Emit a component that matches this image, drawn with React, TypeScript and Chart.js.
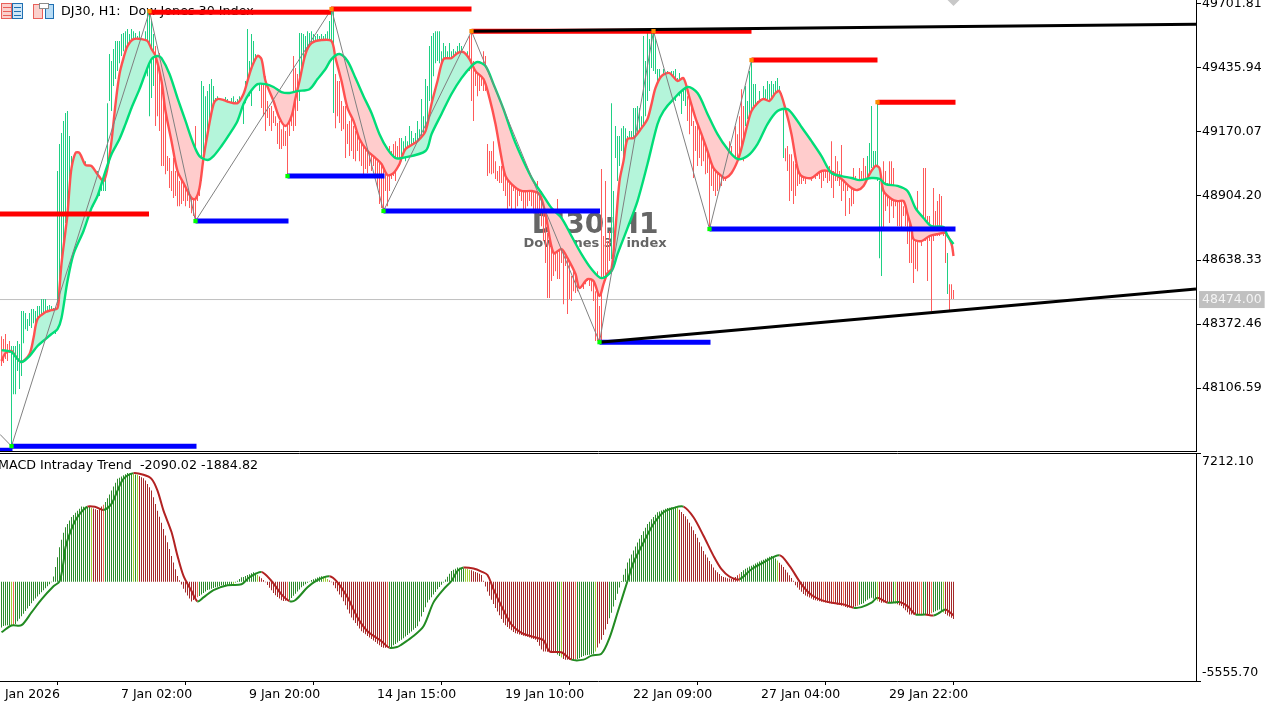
import React, { useEffect, useRef } from "react";
import { Chart, registerables } from "chart.js";

Chart.register(...registerables);

// ---------- price pane data ----------
const priceTicks = [49701.81, 49435.94, 49170.07, 48904.2, 48638.33, 48372.46, 48106.59];
const lastPrice = 48474.0;

const barHigh = [48322,48310,48331,48289,48302,48281,48281,48281,48302,48289,48426,48426,48418,48393,48418,48435,48435,48426,48447,48447,48476,48476,48476,48447,48451,48447,48439,48439,
49008,49120,49166,49216,49249,49257,49153,49070,49062,49070,49058,49070,49029,49049,49049,49029,49008,48999,49008,48987,49008,48975,48975,48987,49008,49290,49494,49465,49515,49548,49548,49548,49577,49581,49589,49598,49577,49598,49589,49581,49569,49589,49556,49556,49589,49672,49672,49631,49577,49527,49486,49498,49423,49299,49402,49070,49062,49008,49062,49008,49062,48966,48966,48958,48958,48954,48925,48925,48916,49195,49070,49070,
49382,49361,49319,49340,49369,49390,49361,49311,49319,49311,49307,49299,49315,49307,49299,49311,49319,49299,49307,49319,49311,49311,49382,49598,49465,49577,49548,49494,49486,49452,49411,49382,49402,49299,49270,49278,49257,49236,49207,49216,49182,49195,49174,49203,49299,49236,49486,49436,49411,
49581,49581,49577,49569,49589,49581,49589,49577,49569,49577,49569,49577,49569,49577,49589,49631,49681,49672,
49411,49382,49382,49299,49278,49278,49203,49216,49224,49195,49174,49153,49132,49161,49174,49112,49112,49091,49112,49091,49070,49049,49091,49049,49062,49008,49008,49112,49091,49120,49132,49112,49145,
49145,49132,49153,49132,49195,49174,49145,49166,49216,49182,49307,49236,49390,49361,49527,49569,49581,49589,49589,49589,49506,49540,49527,49506,49540,49506,49515,49506,49527,49540,49527,49506,49498,49506,49569,49589,49465,49444,49436,49444,49423,49506,49486,
49120,49091,49091,49132,49049,49008,49029,49029,49029,49037,48987,48987,48966,49008,49016,48987,49008,48999,48966,48966,48966,48966,48946,48933,48946,48966,48925,48925,48862,48842,48750,48729,48738,48717,48696,48892,48779,48717,48759,48676,48646,48626,48572,48592,48572,48592,48592,48601,48592,48584,48601,48584,48580,48572,48509,48592,48447,49016,48738,48966,48717,48759,
49290,48925,49195,49153,49153,49186,49195,49186,49153,49174,49174,49270,49270,49278,49270,49236,49569,49465,49589,49556,49589,49589,49560,49432,49432,49402,49432,49415,49423,49415,49423,49423,49432,49394,49415,49394,49382,49382,
49319,49299,49278,49216,49195,49216,49174,49174,49132,49112,49091,49091,49049,49029,49029,49020,49008,48999,48999,49008,49029,49132,49112,49070,
49195,49161,49236,49348,49278,49361,49299,49423,49465,49369,49369,49299,49340,49299,49361,49348,49382,49369,49382,49369,49382,49394,49361,49332,49270,49103,49112,49078,49078,49049,49037,49008,49029,49037,49029,49037,49029,49029,49029,49029,49062,49037,49029,49037,49008,49037,49016,49029,49132,49008,49070,49049,49008,49116,48987,48979,48966,48896,48966,49020,48987,48966,49020,49008,49062,49029,49070,49124,49278,49091,49091,49290,48966,48946,49049,49008,48958,49049,49049,49020,48925,48925,48904,48883,48862,48862,48925,48833,48862,48800,48779,48925,48792,48779,49020,49020,48821,48821,48759,48937,48842,48883,48912,48904,48779,48759,48667,48538,48538,48514];

const barLow = [48198,48210,48227,48219,48252,47865,48081,48081,48177,48102,48156,48293,48351,48343,48364,48356,48376,48376,48385,48393,48406,48393,48418,48385,48393,48376,48376,48331,
48459,48509,48592,48696,48792,48862,48925,48987,48999,48925,48904,48966,48904,48883,48925,48883,48862,48904,48862,48904,48925,48904,48925,48925,48925,49037,49299,49257,49361,49390,49423,49456,49486,49506,49506,49531,49515,49535,49527,49515,49527,49515,49506,49486,49465,49402,49236,49311,49361,49195,49236,49174,49029,49029,48995,49008,48937,48925,48896,48904,48862,48862,48871,48883,48862,48883,48854,48833,48821,48800,48883,48904,
48966,49062,49070,49112,49174,49216,49257,49265,49257,49278,49249,49257,49265,49245,49257,49265,49249,49245,49265,49278,49270,49203,49290,49361,49319,49278,49382,49382,49382,49340,49270,49236,49174,49228,49195,49174,49207,49195,49120,49099,49099,49112,49112,48987,49153,49195,49174,49195,49257,
49299,49382,49456,49473,49486,49506,49519,49515,49527,49519,49540,49519,49527,49515,49506,49498,49465,49249,
49186,49236,49207,49174,49182,49062,49120,49070,49091,49058,49049,49091,49049,49029,48995,49016,48999,49029,49008,49029,48987,48937,48871,48854,48842,48925,48862,48925,48975,48987,48966,49029,49029,
49049,49070,49049,49083,49099,49091,49083,49091,49112,49112,49112,49091,49091,49153,49299,49299,49402,49456,49465,49456,49452,49456,49456,49465,49465,49465,49473,49465,49473,49486,49477,49465,49456,49432,49423,49299,49216,49361,49319,49340,49361,49340,49340,
48987,48999,48995,48999,48975,48966,48958,48958,48925,48904,48850,48862,48850,48925,48850,48862,48904,48883,48850,48842,48862,48883,48862,48833,48842,48833,48829,48779,48717,48626,48480,48480,48551,48572,48592,48559,48559,48626,48455,48613,48414,48476,48468,48509,48501,48509,48518,48530,48518,48538,48551,48530,48509,48468,48302,48302,48302,48302,48530,48551,48592,48634,
48642,48655,49062,48966,49029,49091,49049,49103,49070,49103,49112,49112,49153,49161,49174,49153,49195,49236,49299,49340,49436,49423,49411,49361,49340,49319,49340,49299,49361,49319,49348,49382,49299,49340,49319,49245,49299,49278,
49216,49161,49195,48979,49091,49029,49062,49029,49049,48995,49000,48767,48946,48925,48904,48925,48933,48946,48966,48966,48987,49000,49029,49029,
49049,49058,49070,49091,49049,49195,49224,49236,49236,49278,49195,49236,49278,49278,49299,49290,49299,49299,49307,49278,49299,49299,49290,49286,49062,49049,49008,48883,48925,48871,48904,48946,48954,48954,48966,48954,48975,48987,48966,48987,48975,48987,48975,48937,48966,48979,48958,48966,48937,48896,48966,48966,48946,48883,48925,48821,48925,48829,48862,48871,48925,48925,48975,48966,48966,48966,48987,48987,49020,49008,49008,48966,48646,48572,48771,48842,48862,48792,48862,48813,48862,48779,48779,48767,48821,48779,48705,48626,48626,48543,48601,48592,48717,48696,48717,48717,48551,48717,48426,48717,48738,48738,48738,48767,48738,48626,48497,48430,48476,48476];

// runs of [number of bars, colour key] for the candle trend
const candleRuns: [number, string][] = [[5,"r"],[72,"g"],[23,"r"],[30,"g"],[19,"r"],[18,"g"],[33,"r"],[34,"g"],[71,"r"],[38,"g"],[29,"r"],[20,"g"],[41,"r"],[8,"g"],[32,"r"],[1,"g"],[3,"r"]];

const fastBar = [0,2,5,8,10,14,16,18,22,25,28,29,30,32,33,34,35,37,39,42,45,48,51,53,55,57,59,61,63,66,70,73,75,77,80,82,85,88,91,95,97,99,101,103,106,108,111,114,118,121,123,125,128,130,132,136,139,142,145,147,149,152,155,160,165,167,170,173,176,179,183,187,190,193,196,199,200,202,205,208,212,215,218,221,225,228,231,234,237,241,244,247,250,252,255,260,265,269,272,276,280,283,287,289,293,296,299,301,303,305,307,309,311,313,316,320,323,325,327,330,334,338,341,344,347,350,353,356,360,362,365,368,370,373,375,378,381,384,387,389,392,395,398,400,405,410,415,420,425,428,431,434,437,439,441,445,448,451,453,455,456,460,464,468,472,475,476];
const fastPrice = [48219,48252,48260,48227,48214,48248,48314,48393,48422,48430,48439,48522,48622,48759,48829,48937,49020,49083,49083,49033,49029,48995,48966,49020,49132,49286,49411,49477,49527,49556,49556,49548,49515,49486,49382,49257,49132,49008,48958,48896,48892,48937,49062,49161,49286,49307,49303,49294,49290,49328,49382,49436,49486,49473,49382,49299,49228,49195,49236,49311,49382,49494,49539,49552,49548,49477,49382,49270,49216,49141,49091,49062,49037,48991,48999,49037,49062,49099,49116,49132,49174,49286,49382,49473,49477,49498,49502,49473,49423,49390,49311,49203,49062,48987,48954,48925,48925,48912,48829,48667,48684,48646,48580,48522,48559,48551,48489,48538,48584,48601,48771,48966,49049,49141,49145,49186,49224,49286,49353,49402,49415,49382,49394,49311,49228,49161,49091,49020,48987,48979,49000,49049,49103,49203,49257,49290,49307,49299,49332,49340,49265,49161,49020,48987,48979,49008,49004,48975,48937,48929,48946,48995,49029,49020,48925,48892,48883,48883,48829,48771,48725,48717,48738,48746,48750,48705,48655];

const slowBar = [0,5,8,10,14,18,22,25,28,30,33,36,41,45,48,52,55,59,62,65,69,72,75,78,80,84,88,92,96,99,103,106,110,114,118,121,124,128,132,136,140,144,148,154,158,162,165,169,173,177,181,185,189,193,197,200,212,215,220,225,230,235,238,242,246,251,256,261,266,271,275,280,285,290,295,300,305,308,313,318,323,328,331,336,343,348,353,358,363,368,373,378,383,388,393,398,400,405,410,415,420,425,429,435,439,442,448,453,457,461,465,471,473,476];
const slowPrice = [48264,48256,48227,48214,48239,48281,48310,48331,48351,48397,48551,48663,48759,48854,48904,49008,49078,49141,49203,49270,49348,49415,49473,49486,49477,49411,49311,49216,49120,49070,49054,49070,49112,49161,49216,49286,49332,49369,49369,49357,49336,49332,49340,49348,49390,49432,49473,49494,49465,49394,49319,49249,49161,49099,49062,49062,49091,49161,49245,49328,49394,49444,49461,49444,49369,49265,49145,49049,48966,48904,48854,48813,48738,48663,48601,48563,48592,48663,48771,48883,49037,49203,49257,49307,49357,49332,49245,49161,49099,49058,49070,49120,49203,49257,49265,49216,49191,49132,49070,48999,48987,48979,48970,48979,48975,48954,48946,48925,48854,48813,48779,48775,48738,48705];

const zigzagBar = [-0.75,5,74,97,165,191,235,299,326,354,375];
const zigzagPrice = [47914,47865,49672,48800,49681,48842,49589,48297,49589,48767,49469];

const lowPivotBar = [5,97,143,191,299,354];
const lowPivotPrice = [47865,48800,48987,48842,48297,48767];
const highPivotBar = [74,165,235,326,375,438];
const highPivotPrice = [49672,49681,49589,49589,49469,49294];

const resistanceStart = [-0.75,73.75,164.75,235,375,438];
const resistanceEnd = [73.75,164.75,235,375,438,477];
const resistancePrice = [48829,49668,49681,49589,49469,49294];

const supportStart = [-0.75,5,97,143,191,299,354];
const supportEnd = [5.5,97.5,143.5,191.5,299.25,354.5,477];
const supportPrice = [47848,47865,48800,48987,48842,48297,48767];

const trendBarStart = [235,299];
const trendBarEnd = [597.25,597.25];
const trendPriceStart = [49589,48297];
const trendPriceEnd = [49618,48518];

// ---------- MACD pane data ----------
const macdTicks = [7212.1, -5555.7];
const macdHist = [-2560,-2480,-2445,-2440,-2435,-2432,-2430,-2360,-2215,-2070,-1930,-1785,-1640,-1500,-1350,-1205,-1060,-930,-820,-700,-590,-475,-365,-253,-140,-30,290,830,1380,1940,2350,2750,3050,3240,3430,3630,3740,3860,3975,4090,4210,4205,4200,4195,4190,4150,4105,4065,4020,4120,4215,4310,4465,4680,4895,5108,5330,5550,5766,5830,5895,5960,6020,6086,6065,6045,6030,6010,5990,5925,5860,5800,5670,5480,5290,5108,4730,4360,3983,3640,3300,2955,2590,2210,1830,1451,1075,700,326,85,-155,-395,-600,-765,-930,-1097,-1020,-950,-872,-790,-710,-625,-545,-461,-425,-385,-350,-310,-275,-235,-197,-190,-180,-170,-165,-155,-145,-40,60,160,255,275,325,375,425,480,530,505,400,300,195,95,-30,-180,-330,-480,-630,-750,-845,-940,-1035,-1070,-1055,-1040,-1024,-905,-785,-665,-545,-430,-309,-225,-140,-55,20,100,145,190,235,280,305,300,225,150,75,-28,-195,-365,-535,-705,-872,-1095,-1320,-1545,-1770,-1997,-2150,-2305,-2460,-2615,-2768,-2855,-2940,-3030,-3115,-3200,-3285,-3375,-3470,-3560,-3650,-3700,-3690,-3670,-3655,-3645,-3560,-3480,-3400,-3320,-3240,-3160,-3070,-2975,-2875,-2780,-2680,-2585,-2486,-2220,-1950,-1685,-1420,-1153,-1005,-860,-715,-570,-422,-290,-165,-40,125,285,445,608,670,735,799,785,775,765,750,725,680,640,595,550,500,445,383,60,-260,-540,-780,-1010,-1245,-1465,-1670,-1875,-2080,-2290,-2440,-2535,-2625,-2720,-2810,-2875,-2915,-2950,-2985,-3020,-3050,-3083,-3125,-3170,-3210,-3250,-3375,-3580,-3790,-3900,-3910,-3920,-3930,-3940,-3945,-3990,-4070,-4155,-4235,-4320,-4359,-4359,-4359,-4359,-4359,-4359,-4330,-4275,-4215,-4160,-4120,-4100,-4080,-4055,-4035,-3900,-3680,-3460,-3250,-2980,-2670,-2360,-2045,-1733,-1380,-1025,-670,-315,45,390,735,1080,1305,1530,1755,1980,2205,2410,2615,2825,3030,3234,3365,3500,3630,3760,3893,3940,3990,4040,4085,4134,4150,4165,4185,4200,4150,4030,3910,3790,3670,3500,3300,3090,2885,2680,2460,2220,1980,1730,1530,1360,1170,985,800,650,540,430,320,275,235,195,180,150,175,270,360,450,545,640,730,790,850,905,960,1020,1080,1135,1190,1240,1295,1350,1400,1450,1430,1310,1190,1070,950,825,670,520,365,215,60,-200,-320,-440,-560,-680,-770,-830,-885,-940,-1000,-1040,-1065,-1090,-1115,-1140,-1165,-1193,-1208,-1222,-1237,-1250,-1266,-1305,-1340,-1375,-1415,-1451,-1440,-1432,-1422,-1390,-1340,-1290,-1240,-1195,-1090,-1010,-930,-889,-945,-1000,-1060,-1115,-1170,-1165,-1160,-1155,-1150,-1140,-1160,-1210,-1260,-1310,-1361,-1480,-1595,-1710,-1828,-1828,-1828,-1828,-1828,-1828,-1845,-1860,-1875,-1850,-1800,-1760,-1705,-1655,-1600,-1547,-1630,-1715,-1800,-1884,-1950,-2020,-2090];

const macdRuns: [number, string][] = [[5,"g"],[1,"o"],[1,"s"],[38,"g"],[1,"o"],[5,"r"],[1,"s"],[14,"g"],[1,"o"],[1,"g"],[1,"o"],[29,"r"],[1,"s"],[17,"g"],[1,"o"],[11,"g"],[1,"o"],[14,"r"],[1,"s"],[17,"g"],[3,"o"],[29,"r"],[1,"s"],[38,"g"],[3,"o"],[43,"r"],[2,"g"],[1,"o"],[6,"r"],[1,"s"],[9,"g"],[1,"o"],[6,"r"],[34,"g"],[1,"o"],[30,"r"],[1,"s"],[18,"g"],[1,"o"],[22,"r"],[1,"s"],[4,"r"],[1,"s"],[4,"r"],[1,"s"],[6,"r"],[1,"s"],[9,"g"],[1,"o"],[7,"r"],[1,"g"],[1,"o"],[11,"r"],[2,"s"],[2,"g"],[2,"r"],[1,"s"],[5,"g"],[1,"o"],[5,"r"]];

const signalBar = [0,5,10,15,20,26,29,31,32,35,38,43,47,51,55,58,61,66,71,75,78,81,85,88,91,95,98,101,106,113,120,124,130,135,140,144,147,153,158,164,168,173,178,183,190,194,198,200,205,211,216,221,225,228,231,236,240,243,246,250,255,260,266,271,274,280,285,291,295,300,304,308,313,316,321,326,331,336,341,346,351,356,360,364,369,375,381,389,394,400,405,410,416,421,426,430,435,438,443,449,453,457,462,466,469,472,476];
const signalValue = [-2824,-2447,-2430,-1716,-984,-253,28,1097,1941,2953,3628,4208,4191,4022,4359,5108,5766,6086,5991,5766,5108,3983,2784,1451,326,-518,-1097,-872,-461,-197,-141,253,551,45,-703,-1080,-1024,-309,101,309,-28,-872,-1997,-2768,-3330,-3701,-3645,-3516,-3122,-2486,-1153,-422,45,608,799,743,574,383,-422,-1361,-2391,-2858,-3083,-3274,-3893,-3949,-4359,-4359,-4134,-4022,-3139,-1733,45,1080,2205,3234,3893,4134,4208,3611,2576,1451,703,293,141,703,1080,1491,889,-141,-743,-1024,-1193,-1266,-1451,-1418,-1170,-889,-1170,-1136,-1361,-1828,-1828,-1884,-1733,-1547,-1884];

const timeTickBars = [-4.25,59.75,123.75,187.75,251.75,315.75,379.75,443.75];
const timeTickLabels = ["2 Jan 2026","7 Jan 02:00","9 Jan 20:00","14 Jan 15:00","19 Jan 10:00","22 Jan 09:00","27 Jan 04:00","29 Jan 22:00"];

// ---------- styles ----------
const FONT = '"DejaVu Sans", sans-serif';
const FONT_SIZE = 12.5;
const TITLE_SIZE = 12.7;
const candleColor: Record<string, string> = { r: "#ff5a5a", g: "#1fd084" };
const macdColor: Record<string, string> = { g: "#2e8b2e", r: "#a52a2a", o: "#9acd32", s: "#ee6a50" };
const X_MIN = -0.75;
const X_MAX = 597.25;
const SMOOTH = 0.3;

const expand = (runs: [number, string][], table: Record<string, string>) =>
  runs.flatMap(([n, k]) => Array(n).fill(table[k]));

const zip = (xs: number[], ys: number[]) => xs.map((x, i) => ({ x, y: ys[i] }));

const line = (data: any[], color: string, width: number, order: number, extra: any = {}) => ({
  type: "line",
  data,
  borderColor: color,
  borderWidth: width,
  pointRadius: 0,
  tension: 0,
  order,
  ...extra,
});

const fitY = (s: any) => {
  s.width = 85;
  s.paddingTop = s.paddingBottom = s.paddingLeft = s.paddingRight = 0;
};

function drawIcons(ctx: CanvasRenderingContext2D) {
  ctx.save();
  ctx.lineWidth = 1;
  ctx.fillStyle = "#fbd0cc";
  ctx.strokeStyle = "#e8605a";
  ctx.fillRect(1.5, 3.5, 10, 15);
  ctx.strokeRect(1.5, 3.5, 10, 15);
  ctx.fillStyle = "#e8605a";
  [7, 11, 15].forEach((y) => ctx.fillRect(3, y, 8, 1));
  ctx.fillStyle = "#cfe6f7";
  ctx.strokeStyle = "#1f6fb2";
  ctx.fillRect(12.5, 3.5, 10, 15);
  ctx.strokeRect(12.5, 3.5, 10, 15);
  ctx.fillStyle = "#1f6fb2";
  [7, 11, 15].forEach((y) => ctx.fillRect(14, y, 7, 1));
  ctx.fillStyle = "#fbd0cc";
  ctx.strokeStyle = "#e8605a";
  ctx.fillRect(33.5, 4.5, 9, 14);
  ctx.strokeRect(33.5, 4.5, 9, 14);
  ctx.fillStyle = "#b8dcf5";
  ctx.strokeStyle = "#1f6fb2";
  ctx.fillRect(45.5, 4.5, 8, 14);
  ctx.strokeRect(45.5, 4.5, 8, 14);
  ctx.fillStyle = "#ffffff";
  ctx.strokeStyle = "#8a8a8a";
  ctx.fillRect(39.5, 3.5, 9, 5);
  ctx.strokeRect(39.5, 3.5, 9, 5);
  ctx.restore();
}

const pricePaneText = {
  id: "pricePaneText",
  beforeDatasetsDraw(chart: any) {
    const ctx: CanvasRenderingContext2D = chart.ctx;
    ctx.save();
    drawIcons(ctx);
    ctx.textBaseline = "middle";
    ctx.fillStyle = "#000";
    ctx.textAlign = "left";
    ctx.font = `${TITLE_SIZE}px ${FONT}`;
    ctx.fillText("DJ30, H1:  Dow Jones 30 Index", 61, 12);
    ctx.fillStyle = "#666666";
    ctx.textAlign = "center";
    ctx.font = `bold 28px ${FONT}`;
    ctx.fillText("DJ30:H1", 595, 226);
    ctx.font = `bold 13px ${FONT}`;
    ctx.fillText("Dow Jones 30 index", 595, 244);
    ctx.restore();
  },
};

const macdPaneText = {
  id: "macdPaneText",
  beforeDatasetsDraw(chart: any) {
    const ctx: CanvasRenderingContext2D = chart.ctx;
    ctx.save();
    ctx.fillStyle = "#000";
    ctx.strokeStyle = "#000";
    ctx.lineWidth = 1;
    ctx.beginPath();
    ctx.moveTo(0, 0.5);
    ctx.lineTo(chart.chartArea.right + 1, 0.5);
    ctx.stroke();
    ctx.textBaseline = "middle";
    ctx.textAlign = "left";
    ctx.font = `${TITLE_SIZE}px ${FONT}`;
    ctx.fillText("MACD Intraday Trend  -2090.02 -1884.82", -2, 13);
    ctx.restore();
  },
};

export default function App() {
  const priceRef = useRef<HTMLCanvasElement>(null);
  const macdRef = useRef<HTMLCanvasElement>(null);

  useEffect(() => {
    const candleColors = expand(candleRuns, candleColor);
    const histColors = expand(macdRuns, macdColor);

    const levels = (
      starts: number[],
      ends: number[],
      prices: number[],
      color: string,
      order: number
    ) =>
      starts.map((s, i) =>
        line([{ x: s, y: prices[i] }, { x: ends[i], y: prices[i] }], color, 5, order)
      );

    const priceDatasets: any[] = [
      {
        type: "bar",
        data: barHigh.map((h, i) => ({ x: i, y: [barLow[i], h] })),
        backgroundColor: candleColors,
        barThickness: 1,
        inflateAmount: 0,
        borderWidth: 0,
        order: 10,
      },
      line([{ x: X_MIN, y: lastPrice }, { x: X_MAX, y: lastPrice }], "#c0c0c0", 1, 20),
      line(zip(slowBar, slowPrice), "#00dd78", 2.4, 7, { tension: SMOOTH }),
      line(zip(fastBar, fastPrice), "#ff5050", 2.4, 8, {
        tension: SMOOTH,
        fill: { target: 2, above: "#b4f5da", below: "#ffcccc" },
      }),
      line(zip(zigzagBar, zigzagPrice), "#808080", 1, 6),
      ...levels(resistanceStart, resistanceEnd, resistancePrice, "#ff0000", 5),
      ...levels(supportStart, supportEnd, supportPrice, "#0000ff", 5),
      ...trendBarStart.map((s, i) =>
        line(
          [{ x: s, y: trendPriceStart[i] }, { x: trendBarEnd[i], y: trendPriceEnd[i] }],
          "#000000",
          3,
          3
        )
      ),
      {
        type: "line",
        data: zip(lowPivotBar, lowPivotPrice),
        showLine: false,
        pointStyle: "rect",
        pointRadius: 3,
        pointBackgroundColor: "#00ff00",
        pointBorderWidth: 0,
        order: 2,
      },
      {
        type: "line",
        data: zip(highPivotBar, highPivotPrice),
        showLine: false,
        pointStyle: "rect",
        pointRadius: 3,
        pointBackgroundColor: "#ff8c00",
        pointBorderWidth: 0,
        order: 2,
      },
      {
        type: "line",
        data: [{ x: 476, y: 49718 }],
        showLine: false,
        pointStyle: "rectRot",
        pointRadius: 6,
        pointBackgroundColor: "#c8c8c8",
        pointBorderWidth: 0,
        order: 1,
      },
    ];

    const priceChart = new Chart(priceRef.current!, {
      type: "bar",
      data: { datasets: priceDatasets },
      plugins: [pricePaneText],
      options: {
        responsive: false,
        animation: false,
        devicePixelRatio: 1,
        events: [],
        layout: { padding: 0, autoPadding: false },
        plugins: { legend: { display: false }, tooltip: { enabled: false } },
        scales: {
          x: {
            type: "linear",
            min: X_MIN,
            max: X_MAX,
            offset: false,
            grid: { display: false, drawTicks: false },
            border: { color: "#000", width: 1 },
            ticks: { display: false },
            afterFit: (s: any) => {
              s.height = 1;
              s.paddingLeft = s.paddingRight = 0;
            },
          },
          y: {
            type: "linear",
            position: "right",
            min: 47844.9,
            max: 49718.4,
            grid: {
              drawOnChartArea: false,
              tickLength: 5,
              tickColor: (c: any) => (c.tick && c.tick.value === lastPrice ? "transparent" : "#000"),
            },
            border: { color: "#000", width: 1 },
            afterBuildTicks: (s: any) => {
              s.ticks = [...priceTicks, lastPrice].map((value) => ({ value }));
            },
            afterFit: fitY,
            ticks: {
              autoSkip: false,
              padding: 1,
              font: { family: FONT, size: FONT_SIZE },
              color: (c: any) => (c.tick && c.tick.value === lastPrice ? "#f4f4f4" : "#000"),
              showLabelBackdrop: (c: any) => !!(c.tick && c.tick.value === lastPrice),
              backdropColor: "#c0c0c0",
              backdropPadding: { x: 3, y: 1 },
              callback: (v: any) => Number(v).toFixed(2),
            },
          },
        },
      } as any,
    } as any);

    const macdChart = new Chart(macdRef.current!, {
      type: "bar",
      data: {
        datasets: [
          {
            type: "bar",
            data: macdHist.map((y, i) => ({ x: i, y })),
            backgroundColor: histColors,
            barThickness: 1,
            inflateAmount: 0,
            borderWidth: 0,
            order: 5,
          },
          line(zip(signalBar, signalValue), "#228b22", 2, 1, {
            tension: SMOOTH,
            segment: {
              borderColor: (c: any) => (c.p1.parsed.y >= c.p0.parsed.y ? "#228b22" : "#b22222"),
            },
          }),
        ] as any[],
      },
      plugins: [macdPaneText],
      options: {
        responsive: false,
        animation: false,
        devicePixelRatio: 1,
        events: [],
        layout: { padding: 0, autoPadding: false },
        plugins: { legend: { display: false }, tooltip: { enabled: false } },
        scales: {
          x: {
            type: "linear",
            min: X_MIN,
            max: X_MAX,
            offset: false,
            grid: { drawOnChartArea: false, tickLength: 4, tickColor: "#000" },
            border: { color: "#000", width: 1 },
            afterBuildTicks: (s: any) => {
              s.ticks = timeTickBars.map((value) => ({ value }));
            },
            afterFit: (s: any) => {
              s.height = 24;
              s.paddingLeft = s.paddingRight = 0;
            },
            ticks: {
              autoSkip: false,
              maxRotation: 0,
              minRotation: 0,
              align: "start",
              padding: 2,
              font: { family: FONT, size: FONT_SIZE },
              color: "#000",
              callback: (v: any) => timeTickLabels[timeTickBars.indexOf(Number(v))],
            },
          },
          y: {
            type: "linear",
            position: "right",
            min: macdTicks[1],
            max: macdTicks[0],
            grid: { drawOnChartArea: false, tickLength: 5, tickColor: "#000" },
            border: { color: "#000", width: 1 },
            afterBuildTicks: (s: any) => {
              s.ticks = macdTicks.map((value) => ({ value }));
            },
            afterFit: fitY,
            ticks: {
              autoSkip: false,
              padding: 1,
              font: { family: FONT, size: FONT_SIZE, lineHeight: 1.4 },
              color: "#000",
              callback: (v: any) =>
                Number(v) > 0 ? ["", Number(v).toFixed(2)] : [Number(v).toFixed(2), ""],
            },
          },
        },
      } as any,
    } as any);

    return () => {
      priceChart.destroy();
      macdChart.destroy();
    };
  }, []);

  return (
    <div
      style={{
        position: "fixed",
        left: 0,
        top: 0,
        width: 1281,
        height: 705,
        background: "#ffffff",
        overflow: "hidden",
      }}
    >
      <canvas
        ref={priceRef}
        width={1281}
        height={452}
        style={{ position: "absolute", left: 0, top: 0, display: "block" }}
      />
      <canvas
        ref={macdRef}
        width={1281}
        height={252}
        style={{ position: "absolute", left: 0, top: 453, display: "block" }}
      />
    </div>
  );
}
